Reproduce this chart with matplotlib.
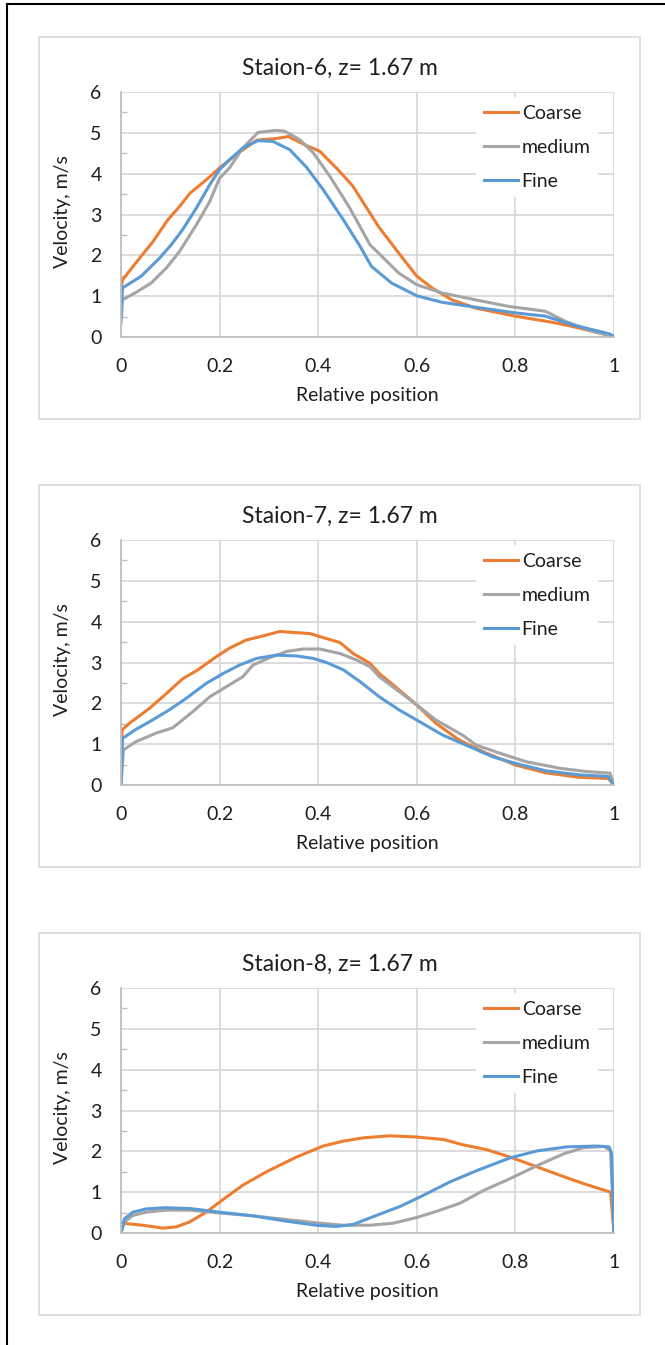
import matplotlib
matplotlib.use("Agg")
import matplotlib.pyplot as plt
from matplotlib.patches import Rectangle
from matplotlib.lines import Line2D
from matplotlib.ticker import MultipleLocator

plt.rcParams['font.family'] = ['Lato', 'DejaVu Sans']

titles = ['Staion-6, z= 1.67 m', 'Staion-7, z= 1.67 m', 'Staion-8, z= 1.67 m']
series_names = ['Coarse', 'medium', 'Fine']
colors = ['#ED7D31', '#A5A5A5', '#5B9BD5']

# station 6
s6_coarse_x = [0, 0.003, 0.041, 0.064, 0.095, 0.119, 0.139, 0.173, 0.2, 0.234, 0.275, 0.315, 0.339,
               0.376, 0.403, 0.44, 0.47, 0.522, 0.563, 0.6, 0.631, 0.671, 0.719, 0.8, 0.875, 0.915, 0.997, 1.0]
s6_coarse_y = [1.15, 1.4, 1.98, 2.32, 2.87, 3.2, 3.51, 3.85, 4.14, 4.47, 4.82, 4.86, 4.91,
               4.69, 4.55, 4.1, 3.7, 2.71, 2.06, 1.49, 1.2, 0.91, 0.71, 0.51, 0.36, 0.26, 0.02, 0.0]
s6_medium_x = [0, 0.003, 0.03, 0.061, 0.092, 0.119, 0.153, 0.18, 0.2, 0.22, 0.247, 0.278, 0.315, 0.332,
               0.363, 0.39, 0.424, 0.464, 0.505, 0.522, 0.563, 0.6, 0.651, 0.719, 0.786, 0.861, 0.902,
               0.956, 0.997, 1.0]
s6_medium_y = [0.34, 0.91, 1.09, 1.32, 1.69, 2.1, 2.75, 3.32, 3.89, 4.14, 4.63, 5.01, 5.06, 5.04,
               4.83, 4.51, 3.93, 3.16, 2.26, 2.06, 1.57, 1.28, 1.08, 0.91, 0.75, 0.63, 0.38,
               0.14, 0.02, 0.0]
s6_fine_x = [0, 0.003, 0.041, 0.078, 0.102, 0.125, 0.153, 0.18, 0.2, 0.22, 0.247, 0.278, 0.308, 0.342,
             0.376, 0.41, 0.451, 0.485, 0.508, 0.549, 0.6, 0.651, 0.719, 0.8, 0.861, 0.915, 0.99, 1.0]
s6_fine_y = [0.47, 1.2, 1.49, 1.93, 2.26, 2.63, 3.16, 3.73, 4.1, 4.34, 4.63, 4.81, 4.79, 4.59,
             4.16, 3.61, 2.87, 2.22, 1.73, 1.32, 1.01, 0.85, 0.73, 0.59, 0.51, 0.3, 0.08, 0.02]

# station 7
s7_coarse_x = [0, 0.002, 0.017, 0.058, 0.092, 0.125, 0.156, 0.193, 0.22, 0.254, 0.288, 0.322, 0.356,
               0.383, 0.41, 0.444, 0.471, 0.505, 0.524, 0.564, 0.6, 0.639, 0.686, 0.741, 0.8, 0.861,
               0.928, 0.988, 1.0]
s7_coarse_y = [0.0, 1.35, 1.51, 1.88, 2.24, 2.6, 2.82, 3.14, 3.35, 3.55, 3.65, 3.76, 3.73,
               3.71, 3.61, 3.49, 3.22, 2.98, 2.73, 2.33, 1.96, 1.51, 1.1, 0.78, 0.49, 0.3,
               0.19, 0.16, 0.0]
s7_medium_x = [0, 0.005, 0.03, 0.071, 0.105, 0.146, 0.18, 0.214, 0.247, 0.268, 0.302, 0.336, 0.369,
               0.403, 0.444, 0.478, 0.505, 0.524, 0.564, 0.6, 0.639, 0.693, 0.72, 0.768, 0.822, 0.89,
               0.944, 0.992, 1.0]
s7_medium_y = [0.0, 0.86, 1.06, 1.27, 1.4, 1.8, 2.16, 2.41, 2.65, 2.94, 3.12, 3.27, 3.33,
               3.33, 3.22, 3.06, 2.9, 2.65, 2.29, 1.96, 1.59, 1.22, 0.98, 0.78, 0.57, 0.41,
               0.33, 0.29, 0.0]
s7_fine_x = [0, 0.003, 0.03, 0.058, 0.098, 0.132, 0.173, 0.207, 0.241, 0.275, 0.315, 0.356, 0.39,
             0.417, 0.451, 0.485, 0.524, 0.564, 0.6, 0.653, 0.707, 0.754, 0.8, 0.861, 0.928, 0.988, 1.0]
s7_fine_y = [0.0, 1.14, 1.36, 1.55, 1.84, 2.12, 2.49, 2.73, 2.94, 3.1, 3.18, 3.16, 3.1,
             3.0, 2.82, 2.53, 2.16, 1.84, 1.59, 1.22, 0.94, 0.69, 0.53, 0.35, 0.25, 0.21, 0.0]

# station 8
s8_coarse_x = [0, 0.003, 0.044, 0.085, 0.112, 0.139, 0.173, 0.207, 0.247, 0.295, 0.356, 0.41, 0.451,
               0.491, 0.545, 0.6, 0.654, 0.694, 0.742, 0.789, 0.837, 0.891, 0.938, 0.993, 1.0]
s8_coarse_y = [0.0, 0.24, 0.19, 0.12, 0.15, 0.27, 0.51, 0.82, 1.17, 1.5, 1.86, 2.13, 2.25,
               2.33, 2.38, 2.35, 2.29, 2.16, 2.04, 1.86, 1.65, 1.41, 1.21, 1.0, 0.0]
s8_medium_x = [0, 0.007, 0.024, 0.051, 0.091, 0.139, 0.2, 0.268, 0.335, 0.396, 0.451, 0.505, 0.552,
               0.6, 0.64, 0.688, 0.735, 0.789, 0.844, 0.898, 0.938, 0.979, 0.993, 1.0]
s8_medium_y = [0.0, 0.27, 0.43, 0.51, 0.56, 0.56, 0.49, 0.42, 0.33, 0.25, 0.19, 0.19, 0.24,
               0.38, 0.53, 0.73, 1.04, 1.33, 1.65, 1.94, 2.09, 2.12, 2.02, 0.0]
s8_fine_x = [0, 0.007, 0.024, 0.051, 0.091, 0.139, 0.2, 0.268, 0.335, 0.396, 0.437, 0.471, 0.518,
             0.566, 0.613, 0.667, 0.722, 0.789, 0.844, 0.905, 0.966, 0.99, 0.995, 1.0]
s8_fine_y = [0.0, 0.35, 0.51, 0.59, 0.62, 0.6, 0.51, 0.42, 0.29, 0.19, 0.16, 0.21, 0.43,
             0.65, 0.92, 1.25, 1.53, 1.84, 2.01, 2.11, 2.13, 2.11, 1.94, 0.0]

stations = [
    [(s6_coarse_x, s6_coarse_y), (s6_medium_x, s6_medium_y), (s6_fine_x, s6_fine_y)],
    [(s7_coarse_x, s7_coarse_y), (s7_medium_x, s7_medium_y), (s7_fine_x, s7_fine_y)],
    [(s8_coarse_x, s8_coarse_y), (s8_medium_x, s8_medium_y), (s8_fine_x, s8_fine_y)],
]

W, H = 665, 1345
fig = plt.figure(figsize=(W / 100, H / 100), dpi=100)
txt = '#1e1e1e'
grid_c = '#d9d9d9'

# outer black frame (left and top only)
fig.add_artist(Line2D([7 / W, 7 / W], [0, 1 - 4 / H], color='black', lw=1.5, transform=fig.transFigure))
fig.add_artist(Line2D([7 / W, 1], [1 - 4 / H, 1 - 4 / H], color='black', lw=1.5, transform=fig.transFigure))

for i, (title, data) in enumerate(zip(titles, stations)):
    off = i * 448
    # chart area border
    fig.add_artist(Rectangle((39 / W, 1 - (419 + off) / H), 601 / W, 382 / H, transform=fig.transFigure,
                             fill=False, edgecolor=grid_c, lw=1.2))
    fig.text(339.5 / W, 1 - (68 + off) / H, title, ha='center', va='center', fontsize=16.5, color=txt)

    ax = fig.add_axes([121 / W, 1 - (337 + off) / H, 493 / W, 245 / H])
    for (xs, ys), name, c in zip(data, series_names, colors):
        ax.plot(xs, ys, color=c, lw=2.2, label=name, solid_joinstyle='round')

    ax.set_xlim(0, 1)
    ax.set_ylim(0, 6)
    ax.set_xticks([0, 0.2, 0.4, 0.6, 0.8, 1])
    ax.set_xticklabels(['0', '0.2', '0.4', '0.6', '0.8', '1'])
    ax.set_yticks(range(7))
    ax.yaxis.set_minor_locator(MultipleLocator(0.5))
    ax.grid(True, which='major', color=grid_c, lw=1.3)
    ax.set_axisbelow(True)
    for s in ['top', 'right']:
        ax.spines[s].set_visible(False)
    for s in ['left', 'bottom']:
        ax.spines[s].set_color('#bfbfbf')
        ax.spines[s].set_linewidth(1.3)
    ax.tick_params(axis='both', which='major', length=0, labelsize=14, colors=txt)
    ax.tick_params(axis='x', pad=15)
    ax.tick_params(axis='y', pad=14)
    ax.tick_params(axis='y', which='minor', direction='in', length=4, color='#bfbfbf', width=1)
    ax.set_xlabel('Relative position', fontsize=14, color=txt)
    ax.set_ylabel('Velocity, m/s', fontsize=14, color=txt)
    ax.xaxis.set_label_coords(0.5, -(387 - 337) / 245)
    ax.yaxis.set_label_coords((71 - 121) / 493, 0.51)

    leg = ax.legend(loc='upper left', bbox_to_anchor=((476 - 121) / 493, 1.0 - 5 / 245), fontsize=14,
                    frameon=True, fancybox=False, framealpha=1, edgecolor='none',
                    handlelength=1.75, handletextpad=0.2, labelspacing=0.87, borderaxespad=0)
    for t in leg.get_texts():
        t.set_color(txt)

fig.savefig('out.png', dpi=100)
